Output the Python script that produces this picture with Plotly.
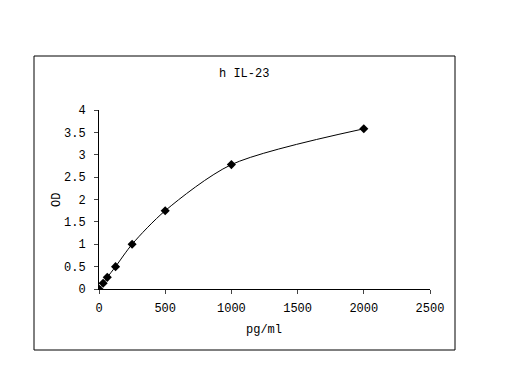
import plotly.graph_objects as go

conc = [0, 31.25, 62.5, 125, 250, 500, 1000, 2000]
od = [0.0, 0.13, 0.26, 0.50, 1.00, 1.75, 2.78, 3.58]
x_ticks = [0, 500, 1000, 1500, 2000, 2500]
y_ticks = [0, 0.5, 1, 1.5, 2, 2.5, 3, 3.5, 4]

FONT = "Liberation Mono"
FS = 12
OFF = 8  # page body margin

fig = go.Figure()
fig.add_trace(go.Scatter(
    x=conc, y=od, mode="lines+markers",
    line=dict(color="black", width=1, shape="spline", smoothing=0.8),
    marker=dict(symbol="diamond", size=7, color="black"),
    showlegend=False,
))

L, T = 99 - OFF, 110 - OFF
pw, ph = 331, 179
W, H = 512, 384
R = W - L - pw
B = H - T - ph

def px(x):
    return (x - OFF - L) / pw

def py(y):
    return (T + ph - (y - OFF)) / ph

fig.update_layout(
    width=W, height=H,
    margin=dict(l=L, r=R, t=T, b=B),
    paper_bgcolor="white", plot_bgcolor="white",
    font=dict(family=FONT, size=FS, color="black"),
    xaxis=dict(range=[0, 2500], tickvals=x_ticks, ticks="outside", ticklen=4,
               ticklabelstandoff=4,
               showline=True, linecolor="black", linewidth=1, showgrid=False,
               zeroline=False, tickfont=dict(size=FS)),
    yaxis=dict(range=[0, 4], tickvals=y_ticks, ticks="outside", ticklen=4,
               ticklabelstandoff=6,
               showline=True, linecolor="black", linewidth=1, showgrid=False,
               zeroline=False, tickfont=dict(size=FS)),
)

# outer border box
fig.add_shape(type="rect", xref="paper", yref="paper",
              x0=px(34), x1=px(455), y0=py(350), y1=py(56),
              line=dict(color="black", width=1), fillcolor="rgba(0,0,0,0)")

fig.add_annotation(text="h IL-23", xref="paper", yref="paper",
                   x=px(244), y=py(74),
                   showarrow=False, font=dict(size=FS), xanchor="center", yanchor="middle")
fig.add_annotation(text="pg/ml", xref="paper", yref="paper",
                   x=px(264), y=py(330),
                   showarrow=False, font=dict(size=FS), xanchor="center", yanchor="middle")
fig.add_annotation(text="OD", xref="paper", yref="paper",
                   x=px(57), y=py(200), textangle=-90,
                   showarrow=False, font=dict(size=FS), xanchor="center", yanchor="middle")

fig.write_html("out.html")
